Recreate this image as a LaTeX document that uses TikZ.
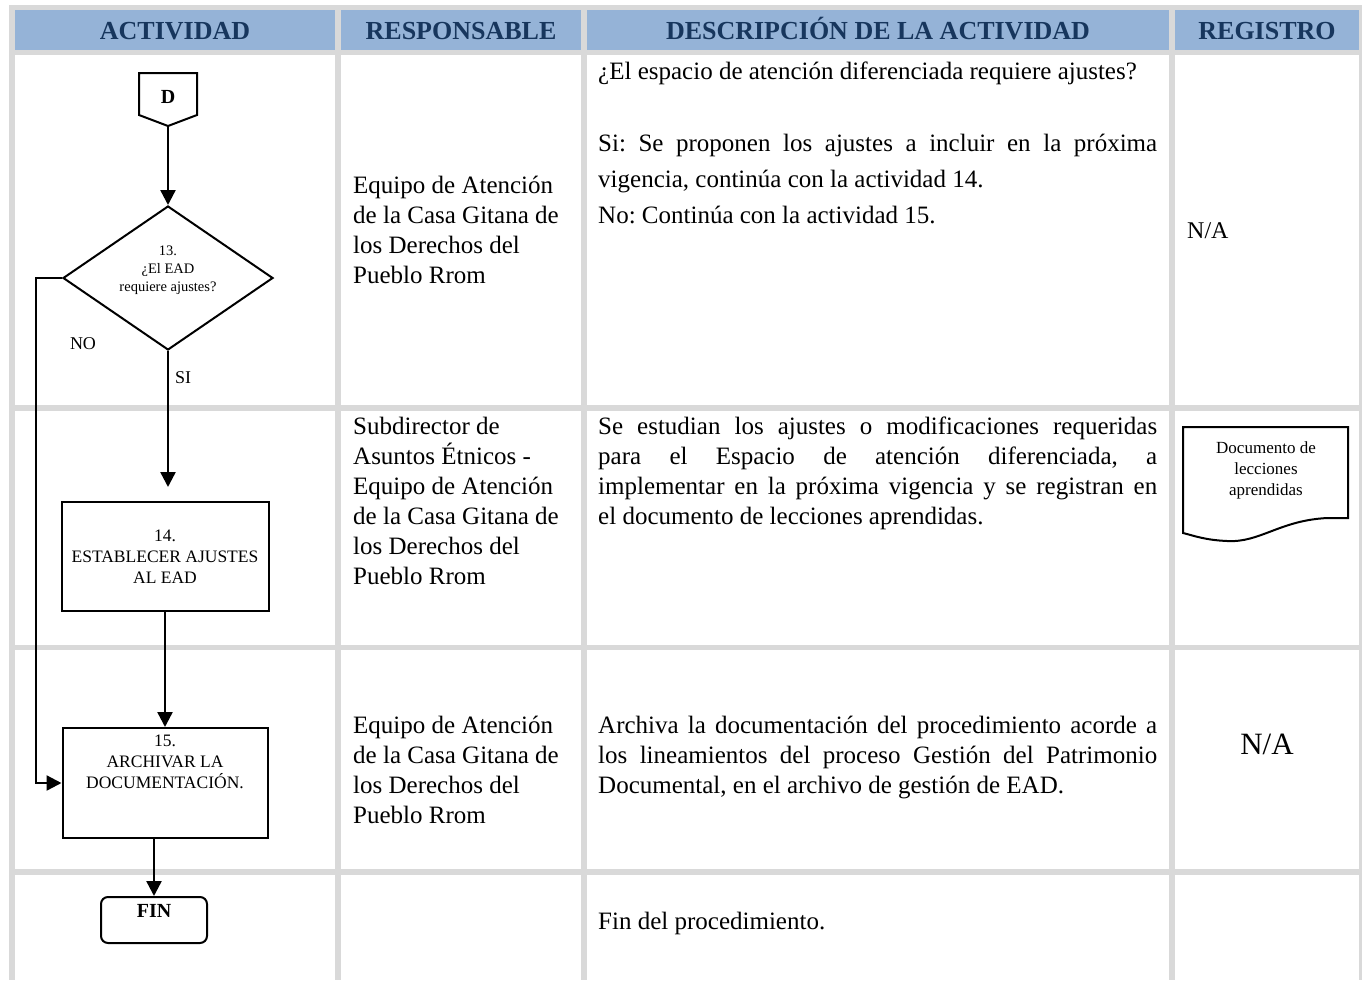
\documentclass[tikz,border=0pt]{standalone}
\usepackage{fontspec}
\setmainfont{Liberation Serif}
\frenchspacing
\usetikzlibrary{arrows.meta,shapes.geometric}
\definecolor{grid}{HTML}{D9D9D9}
\definecolor{hdrblue}{HTML}{95B3D7}
\definecolor{hdrtext}{HTML}{17365D}
\tikzset{hd/.style={anchor=base, text=hdrtext, font=\fontsize{26}{30}\selectfont\bfseries}}
\tikzset{resp/.style={anchor=north west, inner sep=0pt, align=left, font=\fontsize{25}{30}\selectfont}}
\tikzset{desc/.style={anchor=north west, inner sep=0pt, text width=559pt, align=justify, font=\fontsize{25}{30}\selectfont}}
\tikzset{act/.style={draw, line width=2pt, rectangle, inner sep=0pt, align=center, font=\fontsize{17.5}{21}\selectfont}}
\tikzset{lbl/.style={inner sep=0pt, font=\fontsize{18}{21}\selectfont}}
\tikzset{flow/.style={line width=2.4pt, -{Triangle[width=15pt,length=15pt]}}}

\begin{document}
\begin{tikzpicture}[x=1pt,y=-1pt]
                \useasboundingbox (0,0) rectangle (1367,980);
                % table
                \fill[grid] (9,5) rectangle (1362,980);
                \foreach \xa/\xb in {15/335,341/581,587/1169,1175/1359}
                    \fill[hdrblue] (\xa,10) rectangle (\xb,50);
                \foreach \ya/\yb in {55/405,411/645,650/869,875/980}
                    \foreach \xa/\xb in {15/335,341/581,587/1169,1175/1359}
                        \fill[white] (\xa,\ya) rectangle (\xb,\yb);
                \node[hd] (hact) at (175,39) {ACTIVIDAD};
                \node[hd] (hresp) at (461,39) {RESPONSABLE};
                \node[hd] (hdesc) at (878,39) {DESCRIPCIÓN DE LA ACTIVIDAD};
                \node[hd] (hreg) at (1267,39) {REGISTRO};
                % responsables
                \node[resp] (resp1) at (353,176) {Equipo de Atención\\de la Casa Gitana de\\los Derechos del\\Pueblo Rrom};
                \node[resp] (resp2) at (353,417) {Subdirector de\\Asuntos Étnicos -\\Equipo de Atención\\de la Casa Gitana de\\los Derechos del\\Pueblo Rrom};
                \node[resp] (resp3) at (353,716) {Equipo de Atención\\de la Casa Gitana de\\los Derechos del\\Pueblo Rrom};
                % descripciones
                \node[desc, font=\fontsize{25}{36}\selectfont] (desc1) at (598,62) {¿El espacio de atención diferenciada requiere ajustes?\\[36pt]Si: Se proponen los ajustes a incluir en la próxima\linebreak vigencia, continúa con la actividad 14.\\No: Continúa con la actividad 15.};
                \node[desc] (desc2) at (598,417) {Se estudian los ajustes o modificaciones requeridas\linebreak para el Espacio de atención diferenciada, a\linebreak implementar en la próxima vigencia y se registran en\linebreak el documento de lecciones aprendidas.};
                \node[desc] (desc3) at (598,716) {Archiva la documentación del procedimiento acorde a\linebreak los lineamientos del proceso Gestión del Patrimonio\linebreak Documental, en el archivo de gestión de EAD.};
                \node[desc] (desc4) at (598,912) {Fin del procedimiento.};
                % registros
                \node[anchor=west, inner sep=0pt, font=\fontsize{24}{28}\selectfont] (reg1) at (1187,231) {N/A};
                \draw[line width=2pt] (1183,427) -- (1348,427) -- (1348,518) -- (1328,518) .. controls (1280,520) and (1260,543) .. (1227,541) .. controls (1205,540) and (1195,536) .. (1183,533) -- cycle;
                \node[align=center, font=\fontsize{17}{21}\selectfont] (reg2) at (1266,470) {Documento de\\lecciones\\aprendidas};
                \node[font=\fontsize{31}{34}\selectfont] (reg3) at (1267,744) {N/A};
                % flujo
                \draw[line width=2pt, fill=white] (139,73) -- (197,73) -- (197,115) -- (168,126) -- (139,115) -- cycle;
                \node[font=\fontsize{20}{24}\selectfont\bfseries] (d) at (168,97) {D};
                \coordinate (dtip) at (168,126);
                \node[diamond, draw, line width=2pt, aspect=1.46, inner sep=0pt, minimum width=210pt, minimum height=144pt] (q13) at (168,278) {};
                \node[align=center, inner sep=0pt, font=\fontsize{14.5}{18}\selectfont] (q13txt) at (168,270) {13.\\¿El EAD\\requiere ajustes?};
                \node[act, minimum width=207pt, minimum height=109pt] (b14) at (165,556.5) {14.\\ESTABLECER AJUSTES\\AL EAD};
                \node[act, minimum width=205pt, minimum height=110pt] (b15) at (165,783) {};
                \node[align=center, inner sep=0pt, font=\fontsize{17.5}{21}\selectfont] (b15txt) at (165,762) {15.\\ARCHIVAR LA\\DOCUMENTACIÓN.};
                \node[draw, line width=2pt, rounded corners=7pt, minimum width=106pt, minimum height=46pt] (fin) at (154,920) {};
                \node[font=\fontsize{20}{24}\selectfont\bfseries] (fintxt) at (154,911) {FIN};
                \coordinate (nobend) at (36,278);
                \draw[flow] (dtip) -- (q13.north);
                \draw[flow, shorten >=14pt] (q13.south) -- (q13.south |- b14.north);
                \draw[flow] (b14.south) -- (b15.north);
                \draw[flow] (q13.west) -- (nobend) |- (b15.west);
                \draw[flow] (b15.south -| fin.north) -- (fin.north);
                \node[lbl] (nolbl) at (83,344) {NO};
                \node[lbl] (silbl) at (183,378) {SI};
            \end{tikzpicture}
\end{document}
